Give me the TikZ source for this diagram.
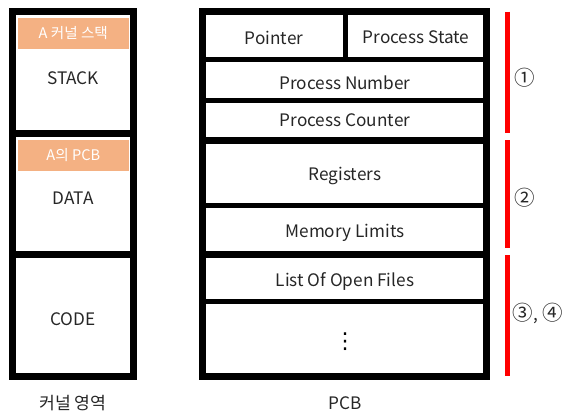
\documentclass[tikz,border=0pt]{standalone}
\usepackage{fontspec}
\setmainfont{Noto Sans CJK KR}
\newfontfamily\symfont{DejaVu Sans}
\definecolor{orangebox}{HTML}{F4B183}
\definecolor{redbar}{HTML}{FF0000}
\begin{document}
\begin{tikzpicture}[x=1pt,y=-1pt,
  outer/.style={draw=black,line width=7pt},
  inner/.style={draw=black,line width=5pt},
  lbl/.style={font=\fontsize{17.2}{20}\selectfont,inner sep=0pt,text=black!85,yshift=-1.5pt},
  circ/.style={font=\fontsize{20.5}{24}\selectfont,inner sep=0pt,text=black!85},
  tag/.style={fill=orangebox,text=white,font=\fontsize{14.6}{17}\selectfont,inner sep=0pt},
  bar/.style={draw=redbar,line width=5pt}]
\useasboundingbox (0,0) rectangle (578,420);
% left column
\draw[outer] (12.5,11.7) rectangle (133.5,376);
\coordinate (l1a) at (12.5,133);
\coordinate (l1b) at (133.5,133);
\coordinate (l2a) at (12.5,254);
\coordinate (l2b) at (133.5,254);
\draw[outer] (l1a) -- (l1b);
\draw[outer] (l2a) -- (l2b);
\node[tag,minimum width=111.3pt,minimum height=31.3pt] (tagA) at (73.3,33.3) {A 커널 스택};
\node[tag,minimum width=111.3pt,minimum height=30.7pt] (tagB) at (73.3,155.3) {A의 PCB};
\node[lbl] (stack) at (73,77) {STACK};
\node[lbl] (data) at (73,197) {DATA};
\node[lbl] (code) at (73,318) {CODE};
\node[lbl] (kernel) at (73,402) {커널 영역};
% PCB
\draw[outer] (202,11.7) rectangle (486.7,376);
\coordinate (v1) at (345,11.7);
\coordinate (v2) at (345,60);
\coordinate (h1a) at (202,60);   \coordinate (h1b) at (486.7,60);
\coordinate (h2a) at (202,100);  \coordinate (h2b) at (486.7,100);
\coordinate (h3a) at (202,140);  \coordinate (h3b) at (486.7,140);
\coordinate (h4a) at (202,205);  \coordinate (h4b) at (486.7,205);
\coordinate (h5a) at (202,254);  \coordinate (h5b) at (486.7,254);
\coordinate (h6a) at (202,301);  \coordinate (h6b) at (486.7,301);
\draw[inner] (v1) -- (v2);
\draw[inner] (h1a) -- (h1b);
\draw[inner] (h2a) -- (h2b);
\draw[outer] (h3a) -- (h3b);
\draw[inner] (h4a) -- (h4b);
\draw[outer] (h5a) -- (h5b);
\draw[inner] (h6a) -- (h6b);
\node[lbl] (ptr) at (274,36) {Pointer};
\node[lbl] (state) at (416,36) {Process State};
\node[lbl] (pnum) at (345,81) {Process Number};
\node[lbl] (pcnt) at (345,119) {Process Counter};
\node[lbl] (regs) at (345,174) {Registers};
\node[lbl] (mem) at (345,231) {Memory Limits};
\node[lbl] (files) at (345,280) {List Of Open Files};
\node[lbl,font=\symfont\fontsize{22}{24}\selectfont,text=black] (dots) at (345,340) {⋮};
\node[lbl] (pcb) at (345,402) {PCB};
% red bars
\coordinate (r1a) at (507.5,11.7); \coordinate (r1b) at (507.5,132.7);
\coordinate (r2a) at (507.5,140);  \coordinate (r2b) at (507.5,248.3);
\coordinate (r3a) at (507.5,255);  \coordinate (r3b) at (507.5,375.7);
\draw[bar] (r1a) -- (r1b);
\draw[bar] (r2a) -- (r2b);
\draw[bar] (r3a) -- (r3b);
\node[circ] (n1) at (525,78) {①};
\node[circ] (n2) at (525,198) {②};
\node[circ] (n34) at (538,313) {③{\fontsize{17.2}{20}\selectfont,} ④};
\end{tikzpicture}
\end{document}
